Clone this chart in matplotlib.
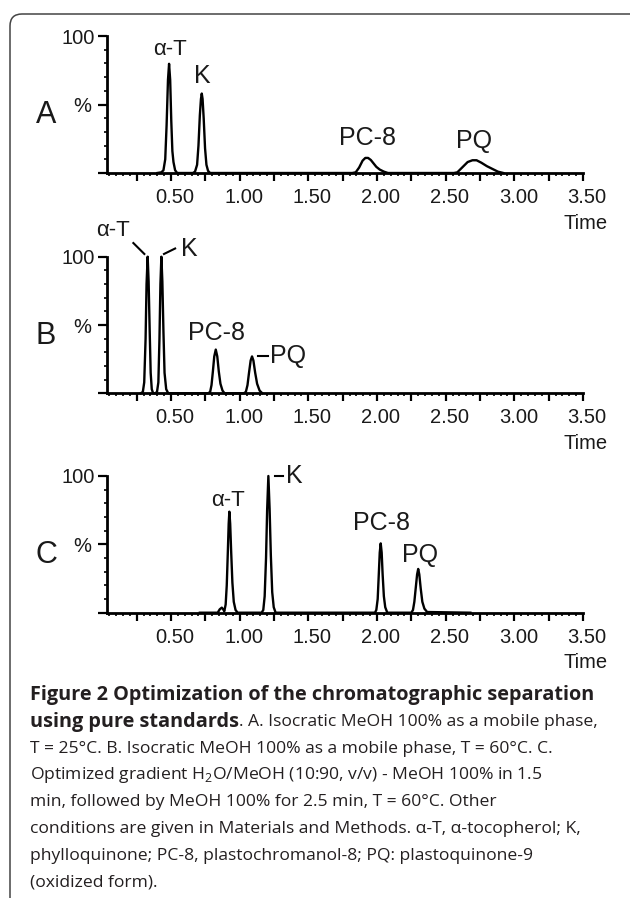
import matplotlib
matplotlib.use('Agg')
import matplotlib.pyplot as plt
import matplotlib.transforms as mtransforms
from matplotlib.ticker import MultipleLocator, FuncFormatter
from matplotlib.patches import FancyBboxPatch

plt.rcParams['font.family'] = ['Liberation Sans', 'DejaVu Sans']
plt.rcParams['mathtext.fontset'] = 'custom'
plt.rcParams['mathtext.rm'] = 'Open Sans'

# chromatogram traces: time (min), intensity (%)
a_time = [0.40, 0.43, 0.445, 0.458, 0.468, 0.478, 0.486, 0.494, 0.502, 0.510, 0.518, 0.530, 0.545,
          0.66, 0.675, 0.69, 0.70, 0.71, 0.718, 0.724, 0.730, 0.738, 0.748, 0.758, 0.77, 0.785,
          1.82, 1.845, 1.87, 1.895, 1.915, 1.935, 1.955, 1.975, 1.995, 2.02, 2.05, 2.08,
          2.56, 2.585, 2.62, 2.66, 2.695, 2.725, 2.76, 2.80, 2.84, 2.88, 2.92]
a_int = [0, 0.5, 2, 10, 35, 68, 79.7, 68, 38, 16, 8, 2, 0,
         0, 1, 6, 20, 42, 54, 58, 54, 40, 18, 6, 1.5, 0,
         0, 0.5, 4, 9, 11, 11, 9.5, 7, 4.5, 2.5, 1, 0,
         0, 0.5, 4, 8, 9.3, 9.3, 7.5, 5, 3, 1, 0]

b_time = [0.28, 0.295, 0.305, 0.315, 0.322, 0.33, 0.337, 0.345, 0.352, 0.36, 0.37,
          0.385, 0.398, 0.408, 0.416, 0.423, 0.43, 0.437, 0.445, 0.453, 0.465, 0.48,
          0.77, 0.785, 0.795, 0.805, 0.815, 0.826, 0.837, 0.848, 0.86, 0.875, 0.89,
          1.03, 1.045, 1.057, 1.068, 1.08, 1.09, 1.10, 1.113, 1.127, 1.145, 1.165]
b_int = [0, 1, 8, 40, 80, 100, 82, 45, 15, 3, 0,
         0, 1, 8, 40, 80, 100, 82, 45, 15, 3, 0,
         0, 1, 6, 16, 27, 32, 27, 16, 7, 2, 0,
         0, 1, 6, 15, 24, 27, 24, 15, 7, 2, 0]

c_time = [0.71, 0.84, 0.855, 0.87, 0.88, 0.888, 0.898, 0.906, 0.914, 0.92, 0.925, 0.931, 0.938,
          0.947, 0.957, 0.97, 0.985,
          1.16, 1.172, 1.182, 1.192, 1.20, 1.209, 1.218, 1.227, 1.237, 1.248, 1.262,
          1.985, 1.995, 2.005, 2.013, 2.02, 2.027, 2.034, 2.041, 2.05, 2.06, 2.075,
          2.25, 2.262, 2.272, 2.282, 2.292, 2.30, 2.308, 2.318, 2.33, 2.345, 2.365, 2.68]
c_int = [0, 0, 2.5, 3.7, 2.5, 1, 6, 20, 45, 65, 73.9, 65, 45,
         22, 8, 2, 0,
         0, 2, 12, 40, 75, 100, 76, 42, 15, 4, 0,
         0, 2, 10, 28, 44, 50.7, 44, 28, 12, 4, 0,
         0, 2, 8, 18, 28, 32, 28, 18, 8, 3, 0.5, 0]

panel_letters = ['A', 'B', 'C']
x_ticks_labelled = [0.5, 1.0, 1.5, 2.0, 2.5, 3.0, 3.5]

caption = [
    [("Figure 2 Optimization of the chromatographic separation", True)],
    [("using pure standards", True), (". A. Isocratic MeOH 100% as a mobile phase,", False)],
    [("T = 25°C. B. Isocratic MeOH 100% as a mobile phase, T = 60°C. C.", False)],
    [("Optimized gradient H$_2$O/MeOH (10:90, v/v) - MeOH 100% in 1.5", False)],
    [("min, followed by MeOH 100% for 2.5 min, T = 60°C. Other", False)],
    [("conditions are given in Materials and Methods. α-T, α-tocopherol; K,", False)],
    [("phylloquinone; PC-8, plastochromanol-8; PQ: plastoquinone-9", False)],
    [("(oxidized form).", False)],
]

W, H = 630, 898
fig = plt.figure(figsize=(W / 100, H / 100), dpi=100)

# frame round the figure
frame = FancyBboxPatch((0.10, -0.5), 6.40, H / 100 - 0.14 + 0.5,
                       boxstyle="round,pad=0,rounding_size=0.12",
                       transform=fig.dpi_scale_trans, fill=False,
                       edgecolor='#444444', linewidth=1.1)
fig.patches.append(frame)

txt = '#1a1a1a'
ax_left, ax_w = 107 / W, 476 / W
tops = [36, 256.7, 476]
bottoms = [173, 393.3, 612.7]
traces = [(a_time, a_int), (b_time, b_int), (c_time, c_int)]
axes = []
for i in range(3):
    ax = fig.add_axes([ax_left, 1 - bottoms[i] / H, ax_w, (bottoms[i] - tops[i]) / H])
    t, y = traces[i]
    ax.plot(t, y, color='black', lw=1.7, clip_on=False, solid_joinstyle='round')
    ax.set_xlim(0.034, 3.5)
    ax.set_ylim(0, 100)
    for s in ['top', 'right']:
        ax.spines[s].set_visible(False)
    for s in ['left', 'bottom']:
        ax.spines[s].set_linewidth(2.0)
    ax.xaxis.set_major_locator(MultipleLocator(0.25))
    ax.xaxis.set_minor_locator(MultipleLocator(0.05))
    ax.xaxis.set_major_formatter(FuncFormatter(
        lambda v, p: '%.2f' % v if any(abs(v - q) < 1e-6 for q in x_ticks_labelled) else ''))
    ax.yaxis.set_major_locator(MultipleLocator(50))
    ax.yaxis.set_minor_locator(MultipleLocator(10))
    ax.yaxis.set_major_formatter(FuncFormatter(lambda v, p: '100' if abs(v - 100) < 1e-6 else ''))
    ax.tick_params(axis='x', which='major', direction='out', length=5.8, width=1.6,
                   pad=5, labelsize=14.5, labelcolor=txt)
    ax.tick_params(axis='x', which='minor', direction='out', length=2.5, width=1.2)
    ax.tick_params(axis='y', which='major', direction='out', length=6.5, width=1.6,
                   pad=2, labelsize=14.5, labelcolor=txt)
    ax.tick_params(axis='y', which='minor', direction='out', length=2.4, width=1.2)
    off = mtransforms.ScaledTranslation(4 / 100, 0, fig.dpi_scale_trans)
    for lab in ax.get_xticklabels():
        lab.set_transform(lab.get_transform() + off)
    ax.patch.set_visible(False)
    ax.text(-0.41, 42, panel_letters[i], fontsize=22, ha='center', va='center', color=txt)
    ax.text(-0.148, 48.5, '%', fontsize=14.5, ha='center', va='center', color=txt)
    ax.text(1.0525, -0.365, 'Time', transform=ax.transAxes, ha='right', va='center',
            fontsize=14.5, color=txt)
    axes.append(ax)

ax_a, ax_b, ax_c = axes
pk = dict(ha='center', va='center', color=txt, fontsize=18, clip_on=False)
al = dict(ha='center', va='center', color=txt, fontsize=16, clip_on=False)
lead = dict(color='black', lw=1.5, clip_on=False)

ax_a.text(0.493, 89.8, 'α-T', **al)
ax_a.text(0.73, 70.8, 'K', **pk)
ax_a.text(1.93, 25.5, 'PC-8', **pk)
ax_a.text(2.71, 23, 'PQ', **pk)

ax_b.text(0.08, 119.5, 'α-T', **al)
ax_b.plot([0.226, 0.306], [110, 102], **lead)
ax_b.text(0.63, 106, 'K', **pk)
ax_b.plot([0.449, 0.53], [102, 106], **lead)
ax_b.text(0.83, 44, 'PC-8', **pk)
ax_b.plot([1.136, 1.209], [27, 27], **lead)
ax_b.text(1.22, 27, 'PQ', **dict(pk, ha='left'))

ax_c.text(0.917, 82.4, 'α-T', **al)
ax_c.plot([1.258, 1.318], [100, 100], **lead)
ax_c.text(1.335, 100, 'K', **dict(pk, ha='left'))
ax_c.text(2.03, 65.4, 'PC-8', **pk)
ax_c.text(2.31, 42, 'PQ', **pk)

# caption, line by line with bold runs
renderer = fig.canvas.get_renderer()
y0, dy = 695, 26.8
for k, line in enumerate(caption):
    x = 30
    for s, bold in line:
        t = fig.text(x / W, 1 - (y0 + k * dy) / H, s, fontsize=14.3 if bold else 12.6,
                     family='Open Sans', weight='bold' if bold else 'normal',
                     color='#231f20', ha='left', va='center')
        bb = t.get_window_extent(renderer)
        x = bb.x1

fig.savefig('out.png', dpi=100)
